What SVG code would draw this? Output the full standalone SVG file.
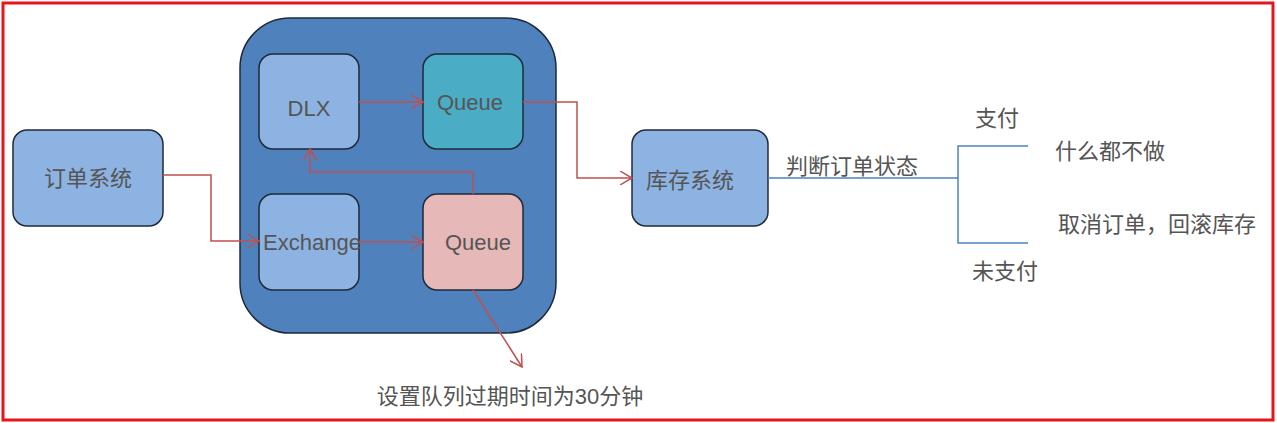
<svg xmlns="http://www.w3.org/2000/svg" width="1277" height="423" viewBox="0 0 1277 423">
<defs>
<style>
.t{font-family:"Liberation Sans","Noto Sans CJK SC",sans-serif;fill:#555;font-size:22px;text-anchor:middle}
.b{stroke:#1f2a3a;stroke-width:1.5}
.r{fill:none;stroke:#c0504d;stroke-width:1.5}
</style>
<marker id="a" markerWidth="14" markerHeight="14" refX="12" refY="7" orient="auto" markerUnits="userSpaceOnUse"><path d="M0,0 L12,7 L0,14" fill="none" stroke="#c0504d" stroke-width="1.5"/></marker>
</defs>
<rect width="1277" height="423" fill="#fff"/>
<rect x="3" y="3" width="1270" height="417" fill="none" stroke="#e8141b" stroke-width="3"/>
<g id="broker"><rect x="240" y="18" width="316" height="315" rx="50" fill="#4f81bd" class="b"/></g>
<g id="order"><rect x="13" y="130" width="150" height="96" rx="14" fill="#8db3e2" class="b"/><text class="t" x="88" y="186">订单系统</text></g>
<g id="dlx"><rect x="259" y="54" width="100" height="95" rx="14" fill="#8db3e2" class="b"/><text class="t" x="309" y="116">DLX</text></g>
<g id="queue1"><rect x="423" y="54" width="100" height="95" rx="14" fill="#4bacc6" class="b"/><text class="t" x="470" y="110">Queue</text></g>
<g id="exchange"><rect x="259" y="194" width="100" height="96" rx="14" fill="#8db3e2" class="b"/><text class="t" x="312" y="250">Exchange</text></g>
<g id="queue2"><rect x="423" y="194" width="100" height="96" rx="14" fill="#e6b9b8" class="b"/><text class="t" x="478" y="250">Queue</text></g>
<g id="stock"><rect x="632" y="130" width="136" height="96" rx="14" fill="#8db3e2" class="b"/><text class="t" x="690" y="188">库存系统</text></g>
<g id="connectors">
<path class="r" d="M163,175 H211 V241 H259" marker-end="url(#a)"/>
<path class="r" d="M359,242 H423" marker-end="url(#a)"/>
<path class="r" d="M359,102 H423" marker-end="url(#a)"/>
<path class="r" d="M523,102 H577 V178 H632" marker-end="url(#a)"/>
<path class="r" d="M473,194 V172 H310 V149" marker-end="url(#a)"/>
<path class="r" d="M473,290 L522,367" marker-end="url(#a)"/>
<path d="M768,178 H958 M1028,146 H958 V243 H1028" fill="none" stroke="#4f81bd" stroke-width="1.5"/>
</g>
<text class="t" x="852" y="174">判断订单状态</text>
<text class="t" x="997" y="126">支付</text>
<text class="t" x="1005" y="279">未支付</text>
<text class="t" x="1110" y="159">什么都不做</text>
<text class="t" x="1157" y="232">取消订单，回滚库存</text>
<text class="t" x="510" y="404">设置队列过期时间为30分钟</text>
</svg>
